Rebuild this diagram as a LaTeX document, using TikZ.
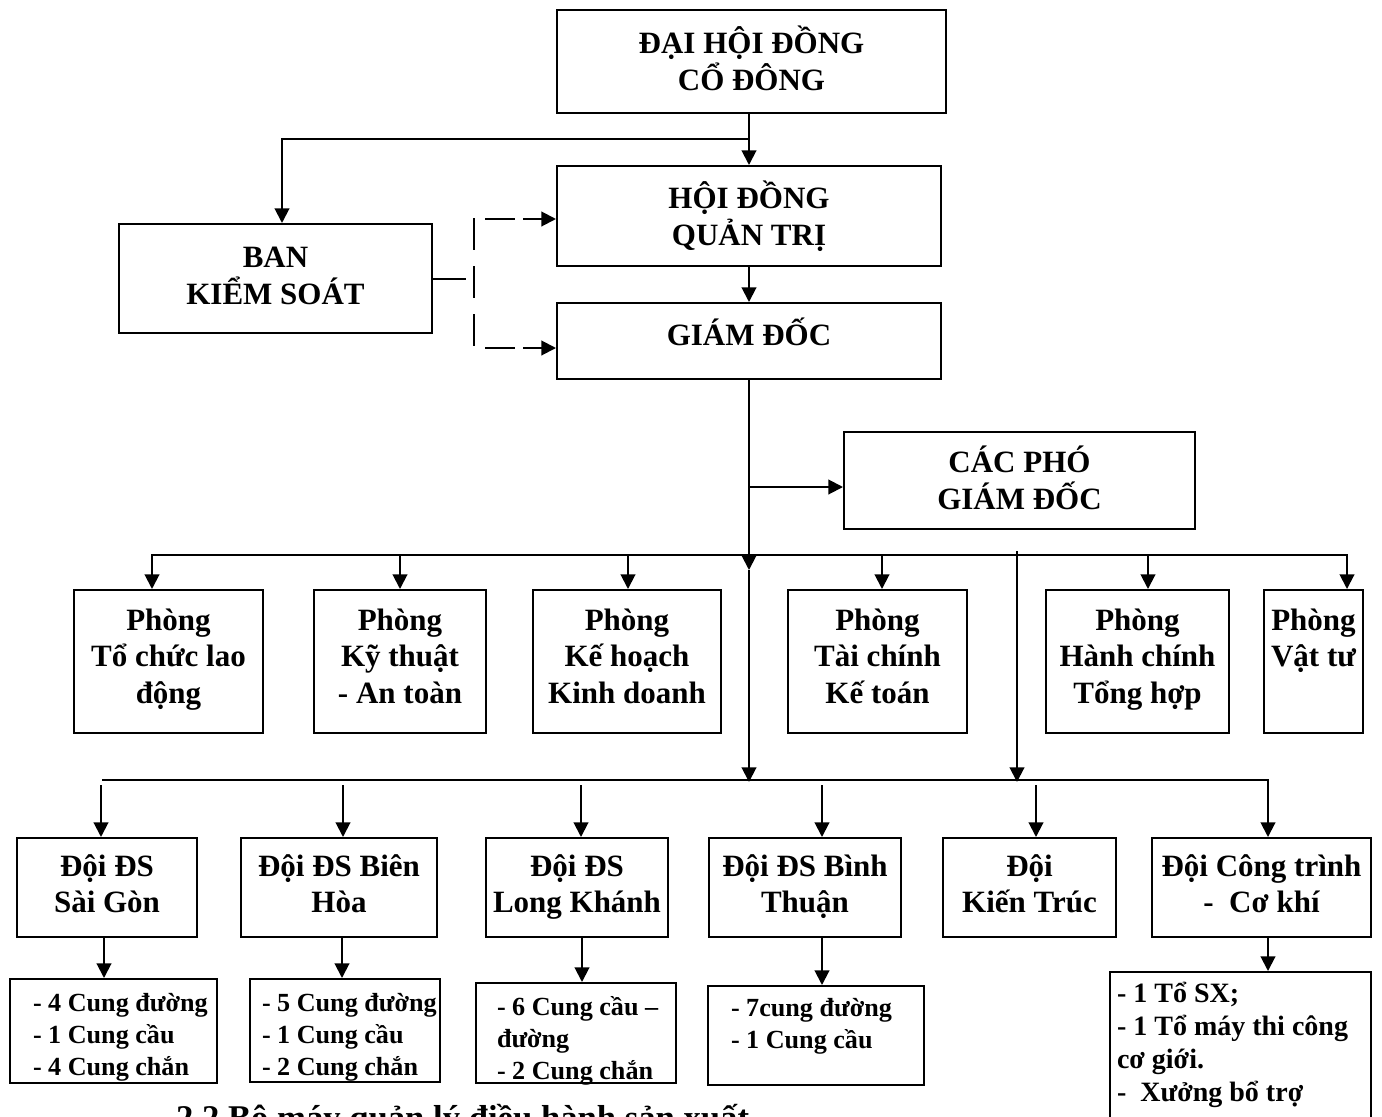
\documentclass[tikz,border=0pt]{standalone}
\usepackage{fontspec}
\setmainfont{Liberation Serif}
\usepackage{tikz}
\usetikzlibrary{arrows.meta, calc}

\begin{document}
\begin{tikzpicture}[x=0.75pt, y=-0.75pt, >={Triangle[length=11pt, width=11pt]}, line width=1.5pt,
    unit/.style={draw, line width=1.5pt, inner sep=0pt, align=center,
        font=\fontsize{23.25}{27.5}\selectfont\bfseries},
    sub/.style={draw, line width=1.5pt, inner sep=0pt},
    subtext/.style={inner sep=0pt, align=left, anchor=north west,
        font=\fontsize{19.6}{24}\selectfont\bfseries},
    wh/.style 2 args={minimum width=#1*0.75pt, minimum height=#2*0.75pt}]
    \useasboundingbox (0,0) rectangle (1382,1117);

    % management chain
    \node[unit, wh={389}{103}, text depth=5pt] (dhd) at (751.5,61.5) {ĐẠI HỘI ĐỒNG\\CỔ ĐÔNG};
    \node[unit, wh={384}{100}] (hdqt) at (749,216) {HỘI ĐỒNG\\QUẢN TRỊ};
    \node[unit, wh={384}{76}, text depth=13.5pt] (gd) at (749,341) {GIÁM ĐỐC};
    \node[unit, wh={313}{109}, text depth=4.5pt] (bks) at (275.5,278.5) {BAN\\KIỂM SOÁT};
    \node[unit, wh={351}{97}, text depth=4.5pt] (cpgd) at (1019.5,480.5) {CÁC PHÓ\\GIÁM ĐỐC};

    % departments
    \foreach \n/\x/\w/\t in {p1/168.5/189/{Phòng\\Tổ chức lao\\động}, p2/400/172/{Phòng\\Kỹ thuật\\- An toàn},
        p3/627/188/{Phòng\\Kế hoạch\\Kinh doanh}, p4/877.5/179/{Phòng\\Tài chính\\Kế toán},
        p5/1137.5/183/{Phòng\\Hành chính\\Tổng hợp}, p6/1313.5/99/{Phòng\\Vật tư\\~}}
        \node[unit, wh={\w}{143}, text depth=8pt] (\n) at (\x,661.5) {\t};

    % teams
    \foreach \n/\x/\w/\t in {d1/107/180/{Đội ĐS\\Sài Gòn}, d2/339/196/{Đội ĐS Biên\\Hòa},
        d3/577/182/{Đội ĐS\\Long Khánh}, d4/805/192/{Đội ĐS Bình\\Thuận},
        d5/1029.5/173/{Đội\\Kiến Trúc}, d6/1261.5/219/{Đội Công trình\\- \ Cơ khí}}
        \node[unit, wh={\w}{99}, text depth=6pt] (\n) at (\x,887.5) {\t};

    % team sections, text cut by the box
    \foreach \n/\x/\y/\w/\h/\dx/\dy/\t in {
        s1/113.5/1031/207/104/23/14.5/{- 4 Cung đường\\- 1 Cung cầu\\- 4 Cung chắn},
        s2/345/1030.5/190/103/12/14.5/{- 5 Cung đường\\- 1 Cung cầu\\- 2 Cung chắn},
        s3/576/1033/200/100/21/13/{- 6 Cung cầu –\\đường\\- 2 Cung chắn},
        s4/816/1035.5/216/99/23/12/{- 7cung đường\\- 1 Cung cầu}}
    {
        \node[sub, wh={\w}{\h}] (\n) at (\x,\y) {};
        \begin{scope}
            \clip (\n.south west) rectangle (\n.north east);
            \node[subtext] (\n-txt) at ($(\n.north west)+(\dx,\dy)$) {\t};
        \end{scope}
    }
    \node[sub, wh={261}{158}] (s5) at (1240.5,1051) {};
    \node[subtext, font=\fontsize{21}{24.75}\selectfont\bfseries] (s5-txt) at ($(s5.north west)+(7,10)$)
        {- 1 Tổ SX;\\- 1 Tổ máy thi công\\cơ giới.\\- \ Xưởng bổ trợ};

    \node[anchor=base west, inner sep=0pt, font=\fontsize{26}{30}\selectfont\bfseries] (cap) at (175,1129)
        {2.2 Bộ máy quản lý điều hành sản xuất};

    % connectors at the top
    \coordinate (j1) at (749,139);
    \draw[->] (hdqt.north |- dhd.south) -- (hdqt.north);
    \draw[->] (j1) -| ($(bks.north)+(6.5,0)$);
    \draw[->] (hdqt.south) -- (hdqt.south |- gd.north);

    % supervision, dashed
    \coordinate (kt) at (474,218);
    \coordinate (kb) at (474,350);
    \coordinate (k1) at (485,219);
    \coordinate (k2) at (485,348);
    \draw (bks.east) -- ++(33,0);
    \draw[dash pattern=on 24pt off 12pt] (kt) -- (kb);
    \draw[->, dash pattern=on 22.5pt off 6pt] (k1) -- (k1 -| hdqt.west);
    \draw[->, dash pattern=on 22.5pt off 6pt] (k2) -- (k2 -| gd.west);

    % director down to the buses
    \coordinate (b1) at (749,570);
    \coordinate (b2) at (749,782);
    \coordinate (j2) at (749,487);
    \draw[->] (gd.south) -- (b1);
    \draw[->] (b1) -- (b2);
    \draw[->] (j2) -- (j2 -| cpgd.west);
    \draw[->] (1017,551) -- (1017,782);

    % department bus
    \draw[<->] (p1.north -| 152,0) |- (1347,555) -- (p6.north -| 1347,0);
    \foreach \x/\n in {400/p2, 628/p3, 882/p4, 1148/p5}
        \draw[->] (\x,555) -- (\n.north -| \x,0);

    % team bus
    \draw[->] (102,780) -| (d6.north -| 1268,0);
    \foreach \x/\n in {101/d1, 343/d2, 581/d3, 822/d4, 1036/d5}
        \draw[->] (\x,785) -- (\n.north -| \x,0);
    \foreach \x/\a/\b in {104/d1/s1, 342/d2/s2, 582/d3/s3, 822/d4/s4, 1268/d6/s5}
        \draw[->] (\a.south -| \x,0) -- (\b.north -| \x,0);
\end{tikzpicture}
\end{document}
